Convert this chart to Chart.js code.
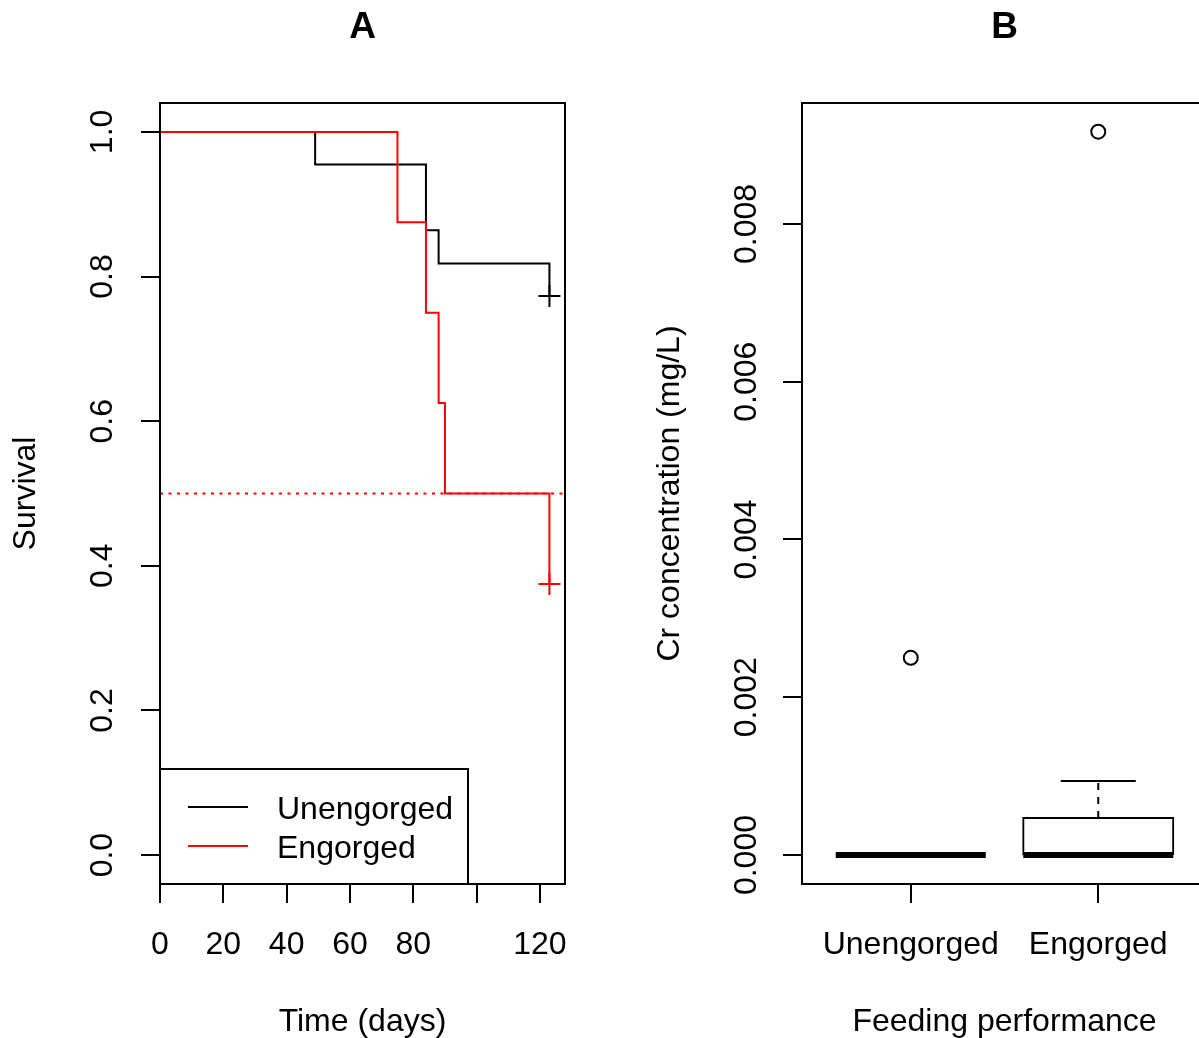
<!DOCTYPE html>
<html>
<head>
<meta charset="utf-8">
<title>Survival and Cr concentration by feeding performance</title>
<script src="https://cdn.jsdelivr.net/npm/chart.js@4.4.1/dist/chart.umd.min.js"></script>
<style>
  html, body { margin: 0; padding: 0; background: #fff; overflow: hidden; }
  body { width: 1199px; height: 1038px; position: relative; }
  canvas { position: absolute; top: 0; }
  #survivalChart { left: 0; }
  #crChart { left: 642px; }
</style>
</head>
<body>
<canvas id="survivalChart" width="600" height="1038"></canvas>
<canvas id="crChart" width="600" height="1038"></canvas>
<script>
// Panel A - Kaplan-Meier steps (time in days, survival fraction)
const unengTime = [0, 49, 84, 88, 123];
const unengSurv = [1, 0.955, 0.864, 0.818, 0.773];
const engTime = [0, 75, 84, 88, 90, 123];
const engSurv = [1, 0.875, 0.75, 0.625, 0.5, 0.375];
const unengCensorTime = [123];
const unengCensorSurv = [0.773];
const engCensorTime = [123];
const engCensorSurv = [0.375];
const medianSurv = 0.5;
const timeTicks = [0, 20, 40, 60, 80, 100, 120];
const timeTickLabels = ['0', '20', '40', '60', '80', '', '120'];
const survTicks = [0, 0.2, 0.4, 0.6, 0.8, 1.0];

// Panel B - boxplot summaries of Cr concentration (mg/L)
const groups = ['Unengorged', 'Engorged'];
const boxQ1 = [0, 0];
const boxMedian = [0, 0];
const boxQ3 = [0, 0.00047];
const whiskerLow = [0, 0];
const whiskerHigh = [0, 0.00094];
const outliers = [[0.0025], [0.00917]];
const crTicks = [0, 0.002, 0.004, 0.006, 0.008];

Chart.defaults.font.family = "'Liberation Sans', Arial, sans-serif";
Chart.defaults.color = '#000';

const font32 = { size: 32, lineHeight: 1 };
const titleFont = { size: 37, weight: 'bold', lineHeight: 1 };

function fixedTicks(values) {
    return scale => { scale.ticks = values.map(v => ({ value: v })); };
}

function toPoints(xs, ys) {
    return xs.map((x, i) => ({ x: x, y: ys[i] }));
}

// box around the plotting region, like R's bty="o"
const frame = {
    id: 'frame',
    afterDraw(chart) {
        const { ctx, chartArea: a } = chart;
        ctx.save();
        ctx.strokeStyle = '#000';
        ctx.lineWidth = 2;
        ctx.strokeRect(a.left, a.top, a.right - a.left, a.bottom - a.top);
        ctx.restore();
    }
};

// bottom-left legend with a border
const boxLegend = {
    id: 'boxLegend',
    afterDraw(chart) {
        const { ctx, chartArea: a } = chart;
        const items = chart.data.datasets.filter(d => d.inLegend);
        const w = 308, h = 115;
        ctx.save();
        ctx.fillStyle = '#fff';
        ctx.fillRect(a.left, a.bottom - h, w, h);
        ctx.strokeStyle = '#000';
        ctx.lineWidth = 2;
        ctx.strokeRect(a.left, a.bottom - h, w, h);
        ctx.font = "32px 'Liberation Sans', Arial, sans-serif";
        ctx.textBaseline = 'middle';
        items.forEach((d, i) => {
            const y = a.bottom - 77 + i * 39;
            ctx.strokeStyle = d.borderColor;
            ctx.beginPath();
            ctx.moveTo(a.left + 28, y);
            ctx.lineTo(a.left + 88, y);
            ctx.stroke();
            ctx.fillStyle = '#000';
            ctx.fillText(d.label, a.left + 117, y + 3);
        });
        ctx.restore();
    }
};

const tickGrid = { drawOnChartArea: false, tickLength: 19, color: '#000', lineWidth: 2, offset: false };

// ---------- Panel A ----------
new Chart(document.getElementById('survivalChart'), {
    type: 'line',
    data: {
        datasets: [
            {
                label: 'Unengorged', inLegend: true,
                data: toPoints(unengTime, unengSurv),
                borderColor: '#000', borderWidth: 2, stepped: true, pointRadius: 0, order: 2
            },
            {
                label: 'Engorged', inLegend: true,
                data: toPoints(engTime, engSurv),
                borderColor: '#ff0000', borderWidth: 2, stepped: true, pointRadius: 0, order: 1
            },
            {
                label: 'Median survival',
                data: [{ x: 0, y: medianSurv }, { x: 130, y: medianSurv }],
                borderColor: '#ff0000', borderWidth: 2, borderDash: [3, 5.5], pointRadius: 0, order: 3
            },
            {
                label: 'Censored (Unengorged)',
                data: toPoints(unengCensorTime, unengCensorSurv),
                showLine: false, pointStyle: 'cross', pointRadius: 11, pointBorderWidth: 2,
                borderColor: '#000', pointBorderColor: '#000', order: 0
            },
            {
                label: 'Censored (Engorged)',
                data: toPoints(engCensorTime, engCensorSurv),
                showLine: false, pointStyle: 'cross', pointRadius: 11, pointBorderWidth: 2,
                borderColor: '#ff0000', pointBorderColor: '#ff0000', order: 0
            }
        ]
    },
    options: {
        responsive: false,
        animation: false,
        layout: { padding: { left: 0, right: 35, top: 0, bottom: 0 } },
        plugins: {
            legend: { display: false },
            tooltip: { enabled: false },
            title: {
                display: true, text: 'A', fullSize: false, font: titleFont,
                padding: { top: 9.5, bottom: 56.5 }
            }
        },
        scales: {
            x: {
                type: 'linear', min: 0, max: 127.92, offset: false,
                afterBuildTicks: fixedTicks(timeTicks),
                afterFit: s => { s.height = 154; },
                grid: tickGrid,
                border: { display: false },
                ticks: {
                    autoSkip: false, maxRotation: 0, padding: 26, font: font32,
                    callback: (v, i) => timeTickLabels[i]
                },
                title: { display: true, text: 'Time (days)', font: font32, padding: { top: 0, bottom: 0 } }
            },
            y: {
                type: 'linear', min: -0.04, max: 1.04,
                afterBuildTicks: fixedTicks(survTicks),
                afterFit: s => { s.width = 160; },
                grid: tickGrid,
                border: { display: false },
                ticks: {
                    autoSkip: false, minRotation: 90, maxRotation: 90, crossAlign: 'center',
                    padding: 16, font: font32,
                    callback: v => v.toFixed(1)
                },
                title: { display: true, text: 'Survival', font: font32, padding: { top: 10, bottom: 0 } }
            }
        }
    },
    plugins: [frame, boxLegend]
});

// ---------- Panel B ----------
const boxHalf = 0.4;
const capHalf = 0.2;

const boxData = groups.map((g, i) => ({ x: i + 1, y: [boxQ1[i], boxQ3[i]] }));
const medianData = [];
const whiskerData = [];
const capData = [];
groups.forEach((g, i) => {
    const c = i + 1;
    medianData.push({ x: c - boxHalf, y: boxMedian[i] }, { x: c + boxHalf, y: boxMedian[i] }, { x: c, y: null });
    whiskerData.push({ x: c, y: boxQ3[i] }, { x: c, y: whiskerHigh[i] }, { x: c, y: null });
    whiskerData.push({ x: c, y: boxQ1[i] }, { x: c, y: whiskerLow[i] }, { x: c, y: null });
    capData.push({ x: c - capHalf, y: whiskerHigh[i] }, { x: c + capHalf, y: whiskerHigh[i] }, { x: c, y: null });
    capData.push({ x: c - capHalf, y: whiskerLow[i] }, { x: c + capHalf, y: whiskerLow[i] }, { x: c, y: null });
});
const outlierData = outliers.flatMap((vals, i) => vals.map(v => ({ x: i + 1, y: v })));

new Chart(document.getElementById('crChart'), {
    type: 'bar',
    data: {
        datasets: [
            {
                type: 'bar', label: 'IQR', data: boxData,
                backgroundColor: '#fff', borderColor: '#000', borderWidth: 2, borderSkipped: false,
                inflateAmount: 1, barPercentage: 0.8, categoryPercentage: 1, order: 5
            },
            {
                type: 'line', label: 'Whiskers', data: whiskerData,
                borderColor: '#000', borderWidth: 2, borderDash: [7, 7], pointRadius: 0, order: 3
            },
            {
                type: 'line', label: 'Caps', data: capData,
                borderColor: '#000', borderWidth: 2, pointRadius: 0, order: 2
            },
            {
                type: 'line', label: 'Median', data: medianData,
                borderColor: '#000', borderWidth: 6, pointRadius: 0, order: 1
            },
            {
                type: 'line', label: 'Outliers', data: outlierData, showLine: false,
                pointStyle: 'circle', pointRadius: 7, pointBorderWidth: 2,
                pointBorderColor: '#000', pointBackgroundColor: 'rgba(0,0,0,0)', order: 0
            }
        ]
    },
    options: {
        responsive: false,
        animation: false,
        layout: { padding: { left: 0, right: 35, top: 0, bottom: 0 } },
        plugins: {
            legend: { display: false },
            tooltip: { enabled: false },
            title: {
                display: true, text: 'B', fullSize: false, font: titleFont,
                padding: { top: 9.5, bottom: 56.5 }
            }
        },
        scales: {
            x: {
                type: 'linear', min: 0.42, max: 2.58, offset: false,
                afterBuildTicks: fixedTicks(groups.map((g, i) => i + 1)),
                afterFit: s => { s.height = 154; },
                grid: tickGrid,
                border: { display: false },
                ticks: {
                    autoSkip: false, maxRotation: 0, padding: 26, font: font32,
                    callback: (v, i) => groups[i]
                },
                title: { display: true, text: 'Feeding performance', font: font32, padding: { top: 0, bottom: 0 } }
            },
            y: {
                type: 'linear', min: -0.000367, max: 0.009533,
                afterBuildTicks: fixedTicks(crTicks),
                afterFit: s => { s.width = 160; },
                grid: tickGrid,
                border: { display: false },
                ticks: {
                    autoSkip: false, minRotation: 90, maxRotation: 90, crossAlign: 'center',
                    padding: -4, font: font32,
                    callback: v => v.toFixed(3)
                },
                title: { display: true, text: 'Cr concentration (mg/L)', font: font32, padding: { top: 12, bottom: 0 } }
            }
        }
    },
    plugins: [frame]
});
</script>
</body>
</html>
